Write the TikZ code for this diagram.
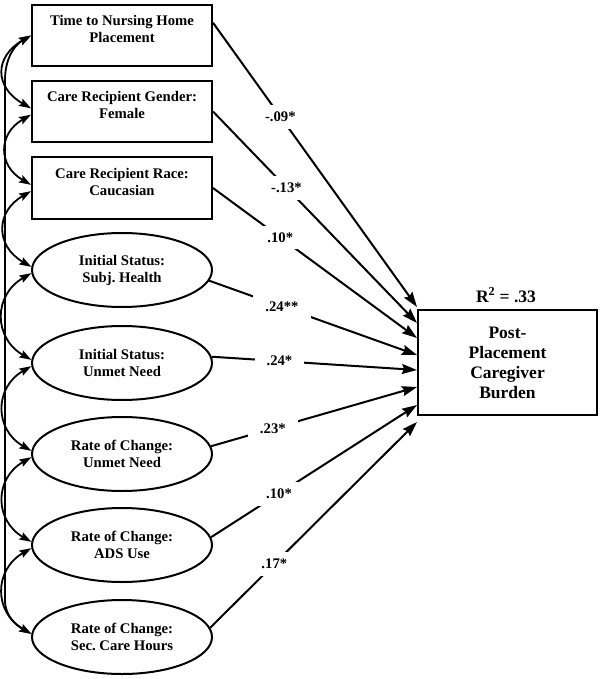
\documentclass[tikz,border=0pt]{standalone}
\usepackage{fontspec}
\setmainfont{Liberation Serif}
\usetikzlibrary{arrows.meta,shapes.geometric}
\frenchspacing
\begin{document}
\begin{tikzpicture}[x=1pt, y=-1pt,
  every node/.style={font=\bfseries\fontsize{14.7}{17}\selectfont},
  pred/.style={draw, line width=2pt, minimum width=180pt, minimum height=61pt, align=center, inner sep=0pt},
  latent/.style={draw, ellipse, line width=2pt, minimum width=180pt, minimum height=74pt, align=center, inner sep=0pt},
  outcome/.style={draw, line width=2pt, minimum width=179pt, minimum height=105pt, align=center,
    font=\bfseries\fontsize{17.5}{20}\selectfont},
  effect/.style={line width=2pt, -{Stealth[length=15pt,width=10pt,inset=2pt]}},
  cov/.style={line width=1.8pt, {Stealth[length=12pt,width=8pt,inset=2pt]}-{Stealth[length=12pt,width=8pt,inset=2pt]}},
  coef/.style={fill=white, inner xsep=12pt, inner ysep=7pt}]
  \useasboundingbox (0,0) rectangle (604,679);
  \node[pred] (time) at (122,35.5) {Time to Nursing Home\\Placement\\[-4pt]\mbox{}};
  \node[pred] (gender) at (122,111.5) {Care Recipient Gender:\\Female\\[-4pt]\mbox{}};
  \node[pred] (race) at (122,188) {Care Recipient Race:\\Caucasian\\[-4pt]\mbox{}};
  \node[latent] (inithealth) at (122,270) {Initial Status:\\Subj. Health};
  \node[latent] (initneed) at (122,363) {Initial Status:\\Unmet Need};
  \node[latent] (rateneed) at (122,454) {Rate of Change:\\Unmet Need};
  \node[latent] (rateads) at (122,545) {Rate of Change:\\ADS Use};
  \node[latent] (ratehours) at (122,637) {Rate of Change:\\Sec. Care Hours};
  \node[outcome] (burden) at (507.5,362.5) {Post-\\Placement\\Caregiver\\Burden};
  \node[font=\bfseries\fontsize{17.5}{20}\selectfont] (rsq) at (506,295) {R\textsuperscript{2} = .33};
  \coordinate (t1) at (417,307);
  \coordinate (t2) at (417,323);
  \coordinate (t3) at (417,338);
  \coordinate (t4) at (417,355);
  \coordinate (t5) at (417,370);
  \coordinate (t6) at (417,387);
  \coordinate (t7) at (417,405);
  \coordinate (t8) at (417,422);
  \draw[effect] (time.8) -- node[coef, pos=.33] {-.09*} (t1);
  \draw[effect] (gender.east) -- node[coef, pos=.36] {-.13*} (t2);
  \draw[effect] (race.east) -- node[coef, pos=.33] {.10*} (t3);
  \draw[effect] (inithealth.-7) -- node[coef, pos=.35] {.24**} (t4);
  \draw[effect] (initneed.4) -- node[coef, pos=.33] {.24*} (t5);
  \draw[effect] (rateneed.5) -- node[coef, pos=.3] {.23*} (t6);
  \draw[effect] (rateads.5) -- node[coef, pos=.33] {.10*} (t7);
  \draw[effect] (ratehours.6) -- node[coef, pos=.31] {.17*} (t8);
  \coordinate (covtop) at (5,80);
  \coordinate (covbot) at (5,600);
  \draw[cov] (time.west) to[out=210, in=90] (covtop) -- (covbot) to[out=-90, in=150] (ratehours.178);
  \draw[cov] (time.west) to[out=210, in=150, looseness=1.5] (gender.178);
  \draw[cov] (gender.182) to[out=210, in=150, looseness=1.4] (race.178);
  \draw[cov] (race.182) to[out=210, in=150, looseness=1.4] (inithealth.178);
  \draw[cov] (inithealth.182) to[out=210, in=150, looseness=1.3] (initneed.178);
  \draw[cov] (initneed.182) to[out=210, in=150, looseness=1.3] (rateneed.178);
  \draw[cov] (rateneed.182) to[out=210, in=150, looseness=1.3] (rateads.178);
  \draw[cov] (rateads.182) to[out=210, in=150, looseness=1.3] (ratehours.178);
\end{tikzpicture}
\end{document}
